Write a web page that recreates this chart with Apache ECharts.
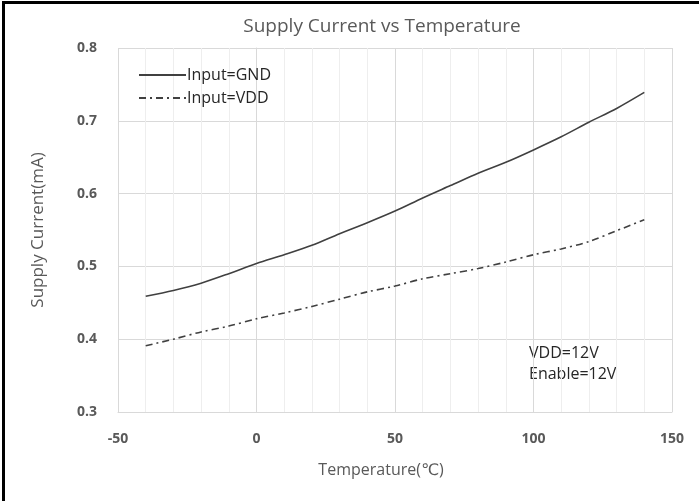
<!DOCTYPE html>
<html>
<head>
<meta charset="utf-8">
<script src="https://cdn.jsdelivr.net/npm/echarts@6/dist/echarts.min.js"></script>
<style>
html,body{margin:0;padding:0;background:#fff;}
#c{width:699px;height:501px;}
</style>
</head>
<body>
<div id="c"></div>
<script>
var titleText = 'Supply Current vs Temperature';
var xName = 'Temperature(℃)';
var yName = 'Supply Current(mA)';
var seriesNames = ['Input=GND', 'Input=VDD'];
var temps = [-40,-30,-20,-10,0,10,20,30,40,50,60,70,80,90,100,110,120,130,140];
var gnd = [0.459,0.467,0.477,0.490,0.504,0.516,0.529,0.545,0.560,0.576,0.594,0.611,0.628,0.643,0.660,0.678,0.698,0.717,0.739];
var vdd = [0.391,0.400,0.410,0.418,0.428,0.436,0.445,0.455,0.465,0.473,0.483,0.490,0.497,0.506,0.516,0.524,0.534,0.549,0.564];
var annotation = ['VDD=12V', 'Enable=12V'];

var font = '"Open Sans", "DejaVu Sans", sans-serif';
function pairs(xs, ys){ return xs.map(function(x,i){ return [x, ys[i]]; }); }

var chart = echarts.init(document.getElementById('c'), null, {renderer:'canvas'});
chart.setOption({
  animation: false,
  backgroundColor: '#fff',
  title: {
    text: titleText, left: 377, top: 12, textAlign: 'center',
    textStyle: {color:'#595959', fontSize:19, fontWeight:'normal', fontFamily:font}
  },
  grid: {left:118, right:27, top:48, bottom:89, containLabel:false},
  legend: {
    orient:'vertical', left:133, top:62, itemWidth:47, itemHeight:14, itemGap:7,
    itemStyle:{opacity:0},
    textStyle:{color:'#262626', fontSize:16, fontFamily:font, padding:[0,0,0,-4]},
    data: seriesNames
  },
  xAxis: {
    type:'value', min:-50, max:150, interval:50,
    name: xName, nameLocation:'middle', nameGap:50,
    nameTextStyle:{color:'#595959', fontSize:16, fontFamily:font, padding:[0,28,0,0]},
    axisLine:{show:true, lineStyle:{color:'#d9d9d9'}},
    axisTick:{show:false},
    axisLabel:{color:'#595959', fontSize:14, fontWeight:'bold', fontFamily:font, margin:20},
    splitLine:{show:true, lineStyle:{color:'#d9d9d9', width:1}},
    minorTick:{show:false, splitNumber:5},
    minorSplitLine:{show:true, lineStyle:{color:'#eeeeee', width:1}}
  },
  yAxis: {
    type:'value', min:0.3, max:0.8, interval:0.1,
    name: yName, nameLocation:'middle', nameGap:71, nameRotate:90,
    nameTextStyle:{color:'#595959', fontSize:17, fontFamily:font},
    axisLine:{show:true, lineStyle:{color:'#d9d9d9'}},
    axisTick:{show:false},
    axisLabel:{color:'#595959', fontSize:14, fontWeight:'bold', fontFamily:font, margin:21,
      formatter:function(v){ return v.toFixed(1); }},
    splitLine:{show:true, lineStyle:{color:'#d9d9d9', width:1}}
  },
  series: [
    {name:seriesNames[0], type:'line', data:pairs(temps,gnd), smooth:0.3, symbol:'none',
     lineStyle:{color:'#404040', width:1.6, type:'solid'}, itemStyle:{color:'#404040'}},
    {name:seriesNames[1], type:'line', data:pairs(temps,vdd), smooth:0.3, symbol:'none',
     lineStyle:{color:'#404040', width:1.6, type:[7,4,2,4]}, itemStyle:{color:'#404040'}}
  ],
  graphic: [
    {type:'rect', shape:{x:2, y:1, width:3, height:500}, style:{fill:'#000'}, z:100},
    {type:'rect', shape:{x:2, y:1, width:697, height:3}, style:{fill:'#000'}, z:100},
    {type:'text', left:529, top:343, style:{text: annotation.join('\n'), fill:'#262626',
      font:'16px ' + font, lineHeight:21}}
  ]
});
</script>
</body>
</html>
